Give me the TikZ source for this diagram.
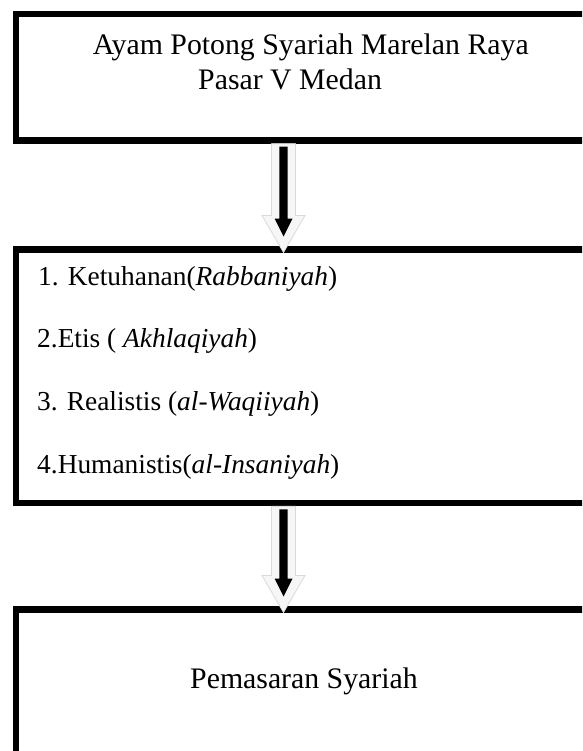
\documentclass[tikz,border=0pt]{standalone}
\usepackage{fontspec}
\setmainfont{Liberation Serif}
\usepackage{tikz}
\usetikzlibrary{calc}

\newcommand{\panah}[2]{%
  \fill[bayangan] ([xshift=-12pt]#1) -- ([xshift=-12pt,yshift=37pt]#2) -- ([xshift=-21.5pt,yshift=37pt]#2) -- (#2)
    -- ([xshift=21.5pt,yshift=37pt]#2) -- ([xshift=12pt,yshift=37pt]#2) -- ([xshift=12pt]#1) -- cycle;
  \filldraw[panahluar] ([xshift=-12pt]#1) -- ([xshift=-12pt,yshift=37pt]#2) -- ([xshift=-21.5pt,yshift=37pt]#2) -- (#2)
    -- ([xshift=21.5pt,yshift=37pt]#2) -- ([xshift=12pt,yshift=37pt]#2) -- ([xshift=12pt]#1) -- cycle;
  \fill[black] ([xshift=-4.2pt,yshift=-3pt]#1) -- ([xshift=-4.2pt,yshift=34pt]#2) -- ([xshift=-9pt,yshift=34pt]#2) -- ([yshift=16pt]#2)
    -- ([xshift=9pt,yshift=34pt]#2) -- ([xshift=4.2pt,yshift=34pt]#2) -- ([xshift=4.2pt,yshift=-3pt]#1) -- cycle;
}

\begin{document}
\begin{tikzpicture}[x=1pt,y=-1pt,
                    kotak/.style={draw, line width=6.5pt, anchor=north west, inner sep=0pt, outer sep=0pt, minimum width=620pt},
                    teks/.style={anchor=base west, inner sep=0pt, font=\fontsize{29.8}{34}\selectfont},
                    butir/.style={teks, font=\fontsize{27.4}{32}\selectfont},
                    bayangan/.style={gray!55, shift={(2pt,-1.5pt)}},
                    panahluar/.style={fill=gray!7, draw=gray!30, line width=0.7pt}]
                    \useasboundingbox (0,0) rectangle (582,751);
                    \clip (0,0) rectangle (582,751);
                    \node [kotak, minimum height=126.5pt] (box1) at (16,14) {};
                    \node [kotak, minimum height=253.5pt] (box2) at (16,249.5) {};
                    \node [kotak, minimum height=200pt] (box3) at (16,609.5) {};
                    \node [teks] (judul1) at (92.7,55) {Ayam Potong Syariah Marelan Raya};
                    \node [teks] (judul2) at (198,90) {Pasar V Medan};
                    \node [butir] (prinsip1) at (38,285) {1. Ketuhanan(\textit{Rabbaniyah})};
                    \node [butir] (prinsip2) at (37,347) {2.Etis ( \textit{Akhlaqiyah})};
                    \node [butir] (prinsip3) at (37,410) {3. Realistis (\textit{al-Waqiiyah})};
                    \node [butir] (prinsip4) at (37,473) {4.Humanistis(\textit{al-Insaniyah})};
                    \node [teks] (hasil) at (190,688) {Pemasaran Syariah};
                    \coordinate (pangkal1) at ([xshift=267.5pt,yshift=-3.25pt]box1.south west);
                    \coordinate (ujung1) at ([xshift=267.5pt,yshift=-3pt]box2.north west);
                    \coordinate (pangkal2) at ([xshift=267.5pt,yshift=-3.25pt]box2.south west);
                    \coordinate (ujung2) at ([xshift=267.5pt,yshift=-3pt]box3.north west);
                    \panah{pangkal1}{ujung1}
                    \panah{pangkal2}{ujung2}
                \end{tikzpicture}
\end{document}
